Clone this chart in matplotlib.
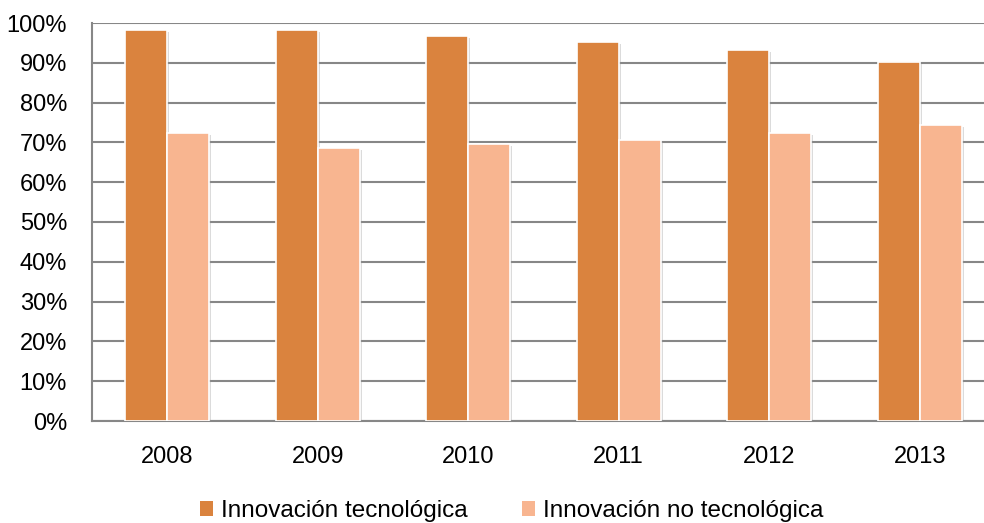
import numpy as np
import matplotlib
matplotlib.use("Agg")
import matplotlib.pyplot as plt
import matplotlib.patheffects as pe
from matplotlib.patches import Patch
from matplotlib.ticker import PercentFormatter

# data (%)
years = ["2008", "2009", "2010", "2011", "2012", "2013"]
tecnologica = [98.2, 98.3, 96.8, 95.3, 93.3, 90.3]
no_tecnologica = [72.4, 68.6, 69.5, 70.6, 72.4, 74.4]
series_names = ["Innovación tecnológica", "Innovación no tecnológica"]

colDark = "#DA833E"
colLight = "#F8B590"
gridCol = "#878787"

plt.rcParams['font.family'] = ['Liberation Sans', 'DejaVu Sans']

fig = plt.figure(figsize=(9.84, 5.23), dpi=100)
ax = fig.add_axes([92/984, 1-421/523, (995-92)/984, (421-23)/523])

x = np.arange(len(years))
w = 0.28
shadow = [pe.SimplePatchShadow(offset=(1.5, -1.5), shadow_rgbFace="#999999", alpha=0.35), pe.Normal()]

b1 = ax.bar(x - w/2, tecnologica, w, color=colDark, edgecolor="white", linewidth=1.2, zorder=3)
b2 = ax.bar(x + w/2, no_tecnologica, w, color=colLight, edgecolor="white", linewidth=1.2, zorder=3)
for b in list(b1) + list(b2):
    b.set_path_effects(shadow)

ax.set_xlim(-0.5, len(years) - 0.5)
ax.set_ylim(0, 100)
ax.set_yticks(np.arange(0, 101, 10))
ax.yaxis.set_major_formatter(PercentFormatter(decimals=0))
ax.set_xticks(x)
ax.set_xticklabels(years)

ax.grid(axis="y", color=gridCol, linewidth=1.5)
ax.set_axisbelow(True)
for s in ["top", "right"]:
    ax.spines[s].set_visible(False)
for s in ["left", "bottom"]:
    ax.spines[s].set_color(gridCol)
    ax.spines[s].set_linewidth(1.5)

ax.tick_params(axis="y", length=0, pad=18, labelsize=17, colors="black")
ax.tick_params(axis="x", length=0, pad=18, labelsize=17, colors="black")

handles = [Patch(facecolor=colDark, edgecolor="none"), Patch(facecolor=colLight, edgecolor="none")]
fig.legend(handles, series_names, loc="center", bbox_to_anchor=(0.52, 1-511/523),
           ncol=2, frameon=False, fontsize=17.5, handlelength=0.55, handleheight=0.55,
           handletextpad=0.35, columnspacing=2.2, borderaxespad=0, borderpad=0)

fig.savefig("out.png", dpi=100)
